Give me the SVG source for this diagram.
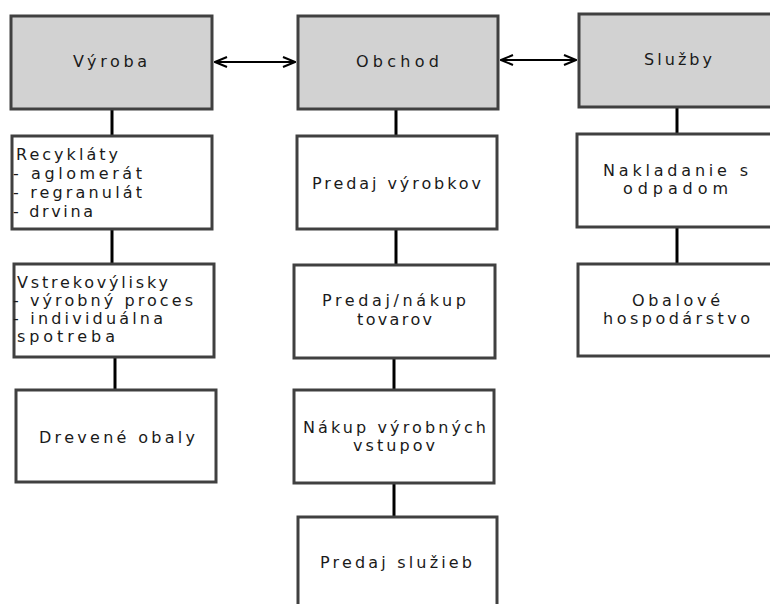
<svg xmlns="http://www.w3.org/2000/svg" width="770" height="604" viewBox="0 0 770 604">
<defs>
<style>
.box{fill:#ffffff;stroke:#404040;stroke-width:3}
.head{fill:#d2d2d2;stroke:#404040;stroke-width:3}
.t{font-family:"DejaVu Sans","Liberation Sans",Arial,sans-serif;font-size:16px;fill:#1a1a1a}
.c{text-anchor:middle}
.con{stroke:#000;stroke-width:3;fill:none}
.arr{stroke:#000;stroke-width:2;fill:none;marker-start:url(#ah);marker-end:url(#ah)}
</style>
<marker id="ah" viewBox="0 0 14 12" refX="13" refY="6" markerWidth="14" markerHeight="12" markerUnits="userSpaceOnUse" orient="auto-start-reverse">
<path d="M1,1 L13,6 L1,11" fill="none" stroke="#000" stroke-width="2"/>
</marker>
</defs>
<rect width="770" height="604" fill="#ffffff"/>
<g id="connectors">
<line class="arr" x1="215" y1="62" x2="295" y2="62"/>
<line class="arr" x1="501" y1="60" x2="576" y2="60"/>
<line class="con" x1="112" y1="110" x2="112" y2="135"/>
<line class="con" x1="112" y1="230" x2="112" y2="263"/>
<line class="con" x1="115" y1="358" x2="115" y2="389"/>
<line class="con" x1="396" y1="110" x2="396" y2="135"/>
<line class="con" x1="396" y1="230" x2="396" y2="264"/>
<line class="con" x1="394" y1="359" x2="394" y2="389"/>
<line class="con" x1="394" y1="484" x2="394" y2="516"/>
<line class="con" x1="677" y1="108" x2="677" y2="133"/>
<line class="con" x1="677" y1="228" x2="677" y2="263"/>
</g>
<g id="vyroba">
<rect class="head" x="11" y="16" width="201" height="93"/>
<text class="t c" x="110" y="67" textLength="74" lengthAdjust="spacing">Výroba</text>
</g>
<g id="obchod">
<rect class="head" x="298" y="16" width="200" height="93"/>
<text class="t c" x="397.5" y="67" textLength="83" lengthAdjust="spacing">Obchod</text>
</g>
<g id="sluzby">
<rect class="head" x="579" y="14" width="230" height="93"/>
<text class="t c" x="678" y="65" textLength="68" lengthAdjust="spacing">Služby</text>
</g>
<g id="recyklaty">
<rect class="box" x="12" y="136" width="200" height="93"/>
<text class="t" x="16" y="160" textLength="102" lengthAdjust="spacing">Recykláty</text>
<text class="t" x="13" y="179" textLength="129" lengthAdjust="spacing">- aglomerát</text>
<text class="t" x="13" y="198" textLength="129" lengthAdjust="spacing">- regranulát</text>
<text class="t" x="13" y="217" textLength="80" lengthAdjust="spacing">- drvina</text>
</g>
<g id="vstrekovylisky">
<rect class="box" x="14" y="264" width="200" height="93"/>
<text class="t" x="17" y="288" textLength="151" lengthAdjust="spacing">Vstrekovýlisky</text>
<text class="t" x="13" y="306" textLength="180" lengthAdjust="spacing">- výrobný proces</text>
<text class="t" x="13" y="324" textLength="150" lengthAdjust="spacing">- individuálna</text>
<text class="t" x="17" y="342" textLength="98" lengthAdjust="spacing">spotreba</text>
</g>
<g id="drevene">
<rect class="box" x="16" y="390" width="200" height="92"/>
<text class="t c" x="117" y="443" textLength="156" lengthAdjust="spacing">Drevené obaly</text>
</g>
<g id="predaj-vyrobkov">
<rect class="box" x="297" y="136" width="200" height="93"/>
<text class="t c" x="396.5" y="189" textLength="169" lengthAdjust="spacing">Predaj výrobkov</text>
</g>
<g id="predaj-nakup">
<rect class="box" x="294" y="265" width="201" height="93"/>
<text class="t c" x="394" y="306" textLength="144" lengthAdjust="spacing">Predaj/nákup</text>
<text class="t c" x="394.5" y="325" textLength="75" lengthAdjust="spacing">tovarov</text>
</g>
<g id="nakup">
<rect class="box" x="294" y="390" width="200" height="93"/>
<text class="t c" x="394.5" y="433" textLength="183" lengthAdjust="spacing">Nákup výrobných</text>
<text class="t c" x="394" y="451" textLength="82" lengthAdjust="spacing">vstupov</text>
</g>
<g id="predaj-sluzieb">
<rect class="box" x="298" y="517" width="199" height="120"/>
<text class="t c" x="396" y="568" textLength="152" lengthAdjust="spacing">Predaj služieb</text>
</g>
<g id="nakladanie">
<rect class="box" x="577" y="134" width="230" height="93"/>
<text class="t c" x="675.5" y="176" textLength="145" lengthAdjust="spacing">Nakladanie s</text>
<text class="t c" x="675.5" y="194" textLength="105" lengthAdjust="spacing">odpadom</text>
</g>
<g id="obalove">
<rect class="box" x="578" y="264" width="230" height="92"/>
<text class="t c" x="676" y="306" textLength="88" lengthAdjust="spacing">Obalové</text>
<text class="t c" x="676.5" y="324" textLength="147" lengthAdjust="spacing">hospodárstvo</text>
</g>
</svg>
